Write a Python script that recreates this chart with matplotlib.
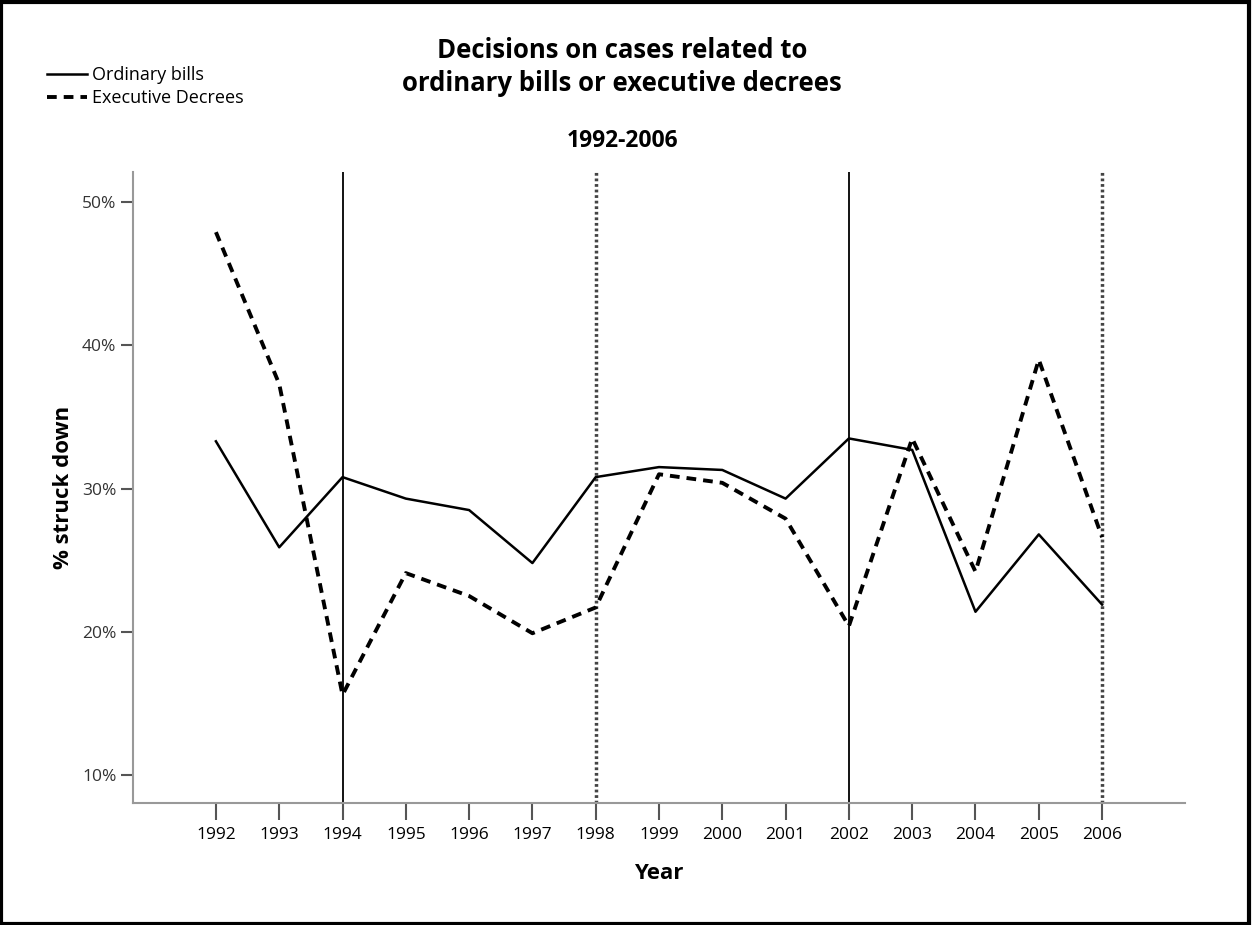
import matplotlib.pyplot as plt
from matplotlib.patches import Rectangle

years = list(range(1992, 2007))
ordinary = [33.3, 25.9, 30.8, 29.3, 28.5, 24.8, 30.8, 31.5, 31.3, 29.3, 33.5, 32.7, 21.4, 26.8, 21.9]
decrees = [47.9, 37.3, 15.6, 24.1, 22.5, 19.9, 21.7, 31.0, 30.4, 27.9, 20.4, 33.5, 24.2, 39.0, 26.6]
yticks = [10, 20, 30, 40, 50]
solid_marks = [1994, 2002]
dotted_marks = [1998, 2006]

plt.rcParams['font.family'] = ['Open Sans', 'DejaVu Sans']

fig = plt.figure(figsize=(12.52, 9.25), dpi=100)
ax = fig.add_axes([133 / 1252, 1 - 803 / 925, (1185 - 133) / 1252, (803 - 172) / 925])

# election years as vertical reference lines
for yr in solid_marks:
    ax.axvline(yr, color='black', lw=1.3, zorder=1)
for yr in dotted_marks:
    ax.axvline(yr, color='#444444', lw=2.5, linestyle=(0, (0.8, 0.8)), zorder=1)

ax.plot(years, ordinary, color='black', lw=1.8, label='Ordinary bills', zorder=3)
ax.plot(years, decrees, color='black', lw=2.8, linestyle=(0, (2.5, 1.8)),
        label='Executive Decrees', zorder=3)

ax.set_xlim(1990.69, 2007.31)
ax.set_ylim(8.05, 52.1)
ax.set_xticks(years)
ax.set_xticklabels([str(y) for y in years], fontsize=12.5)
ax.set_yticks(yticks)
ax.set_yticklabels([f'{v}%' for v in yticks], fontsize=12.5, color='#333333')

for s in ['top', 'right']:
    ax.spines[s].set_visible(False)
for s in ['left', 'bottom']:
    ax.spines[s].set_color('#999999')
    ax.spines[s].set_linewidth(1.5)
ax.tick_params(axis='x', length=12, width=1.5, color='#555555', pad=5)
ax.tick_params(axis='y', length=9, width=1.5, color='#555555', pad=3)

ax.set_xlabel('Year', fontsize=16, fontweight='bold', labelpad=15)
ax.set_ylabel('% struck down', fontsize=16, fontweight='bold', labelpad=6)

fig.text(0.497, 1 - 67 / 925, 'Decisions on cases related to\nordinary bills or executive decrees',
         ha='center', va='center', fontsize=18.5, fontweight='bold', linespacing=1.3)
fig.text(0.497, 1 - 141 / 925, '1992-2006', ha='center', va='center',
         fontsize=16.5, fontweight='bold')

fig.legend(loc='upper left', bbox_to_anchor=(38 / 1252, 1 - 57 / 925), frameon=False,
           fontsize=13, handlelength=2.2, handletextpad=0.3, labelspacing=0.3,
           borderpad=0)

fig.patches.append(Rectangle((0.001, 0.001), 0.997, 0.997, transform=fig.transFigure,
                             fill=False, edgecolor='black', lw=3))

fig.savefig('out.png', dpi=100)
